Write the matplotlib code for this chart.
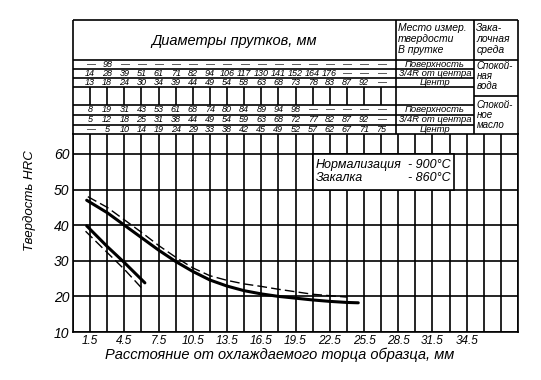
import matplotlib
matplotlib.use('Agg')
import matplotlib.pyplot as plt
import numpy as np
from matplotlib.patches import Rectangle

plt.rcParams['font.family'] = ['Liberation Sans', 'DejaVu Sans']
plt.rcParams['font.style'] = 'italic'

# ---------------- data ----------------
x_tick_labels = [1.5, 4.5, 7.5, 10.5, 13.5, 16.5, 19.5, 22.5, 25.5, 28.5, 31.5, 34.5]
y_ticks = [10, 20, 30, 40, 50, 60]

table_dist = [1.5, 3.0, 4.5, 6.0, 7.5, 9.0, 10.5, 12.0, 13.5, 15.0, 16.5, 18.0,
              19.5, 21.0, 22.5, 24.0, 25.5, 27.0]
water_surface = ['—', '98', '—', '—', '—', '—', '—', '—', '—', '—', '—', '—',
                 '—', '—', '—', '—', '—', '—']
water_34r = ['14', '28', '39', '51', '61', '71', '82', '94', '106', '117', '130', '141',
             '152', '164', '176', '—', '—', '—']
water_center = ['13', '18', '24', '30', '34', '39', '44', '49', '54', '58', '63', '68',
                '73', '78', '83', '87', '92', '—']
oil_surface = ['8', '19', '31', '43', '53', '61', '68', '74', '80', '84', '89', '94',
               '98', '—', '—', '—', '—', '—']
oil_34r = ['5', '12', '18', '25', '31', '38', '44', '49', '54', '59', '63', '68',
           '72', '77', '82', '87', '92', '—']
oil_center = ['—', '5', '10', '14', '19', '24', '29', '33', '38', '42', '45', '49',
              '52', '57', '62', '67', '71', '75']

# upper band: solid and dashed curves
a_solid_x = [1.2, 3.0, 4.5, 6.0, 7.5, 9.0, 10.5, 12.0, 13.5, 15.0, 16.5, 18.0, 19.5, 21.0, 22.5, 24.0, 25.0]
a_solid_y = [47.0, 43.5, 40.0, 36.5, 33.0, 29.8, 27.0, 24.6, 22.9, 21.6, 20.7, 20.0, 19.5, 19.0, 18.6, 18.3, 18.2]
a_dash_x = [1.3, 3.0, 4.5, 6.0, 7.5, 9.0, 10.5, 12.0, 13.5, 15.0, 16.5, 18.0, 19.5, 21.0, 22.5, 24.0]
a_dash_y = [48.0, 45.0, 41.5, 38.0, 34.3, 31.0, 28.0, 25.8, 24.5, 23.5, 22.8, 22.0, 21.3, 20.6, 20.2, 19.8]
# lower short band
b_solid_x = [1.2, 3.0, 4.5, 6.3]
b_solid_y = [39.8, 34.0, 29.5, 23.8]
b_dash_x = [1.1, 3.0, 4.5, 6.0]
b_dash_y = [38.3, 32.3, 27.6, 22.4]

# ---------------- figure ----------------
W, H = 541, 380
fig = plt.figure(figsize=(W / 100, H / 100), dpi=100)


def fr(x0, y0, x1, y1):
    return [x0 / W, 1 - y1 / H, (x1 - x0) / W, (y1 - y0) / H]


LW = 1.2
ax = fig.add_axes(fr(73, 134, 518, 332))
axT = fig.add_axes(fr(73, 20, 518, 134))

# main plot
ax.set_xlim(0, 39)
ax.set_ylim(10, 65.6)
grid_x = np.arange(0, 39.01, 1.5)
ax.set_xticks(x_tick_labels)
ax.set_xticklabels(['%.1f' % t for t in x_tick_labels], fontsize=8.5)
ax.set_xticks(grid_x, minor=True)
ax.set_yticks(y_ticks)
ax.set_yticklabels([str(v) for v in y_ticks], fontsize=10)
ax.tick_params(which='both', length=0, pad=2.5)
ax.grid(True, which='both', color='black', lw=LW)
ax.set_axisbelow(True)
for s in ax.spines.values():
    s.set_linewidth(LW)
    s.set_color('black')

ax.plot(a_solid_x, a_solid_y, color='black', lw=2.2, solid_capstyle='round', zorder=3)
ax.plot(a_dash_x, a_dash_y, color='black', lw=1.0, dashes=(7, 3), zorder=3)
ax.plot(b_solid_x, b_solid_y, color='black', lw=2.2, solid_capstyle='round', zorder=3)
ax.plot(b_dash_x, b_dash_y, color='black', lw=1.0, dashes=(7, 3), zorder=3)

ax.add_patch(Rectangle((21.0, 50.0), 12.35, 10.0, facecolor='white', edgecolor='black',
                       lw=LW, zorder=2))
ax.text(21.3, 57.0, 'Нормализация', fontsize=9, ha='left', va='center', zorder=4)
ax.text(33.1, 57.0, '- 900°C', fontsize=9, ha='right', va='center', zorder=4)
ax.text(21.3, 53.3, 'Закалка', fontsize=9, ha='left', va='center', zorder=4)
ax.text(33.1, 53.3, '- 860°C', fontsize=9, ha='right', va='center', zorder=4)

fig.text(30 / W, 1 - 201 / H, 'Твердость HRC', rotation=90, fontsize=9.5,
         ha='center', va='center')
fig.text(280 / W, 1 - 355 / H, 'Расстояние от охлаждаемого торца образца, мм',
         fontsize=10.5, ha='center', va='center')

# table
axT.set_xlim(0, 39)
axT.set_ylim(134, 20)
axT.axis('off')
C1, C2 = 28.3, 35.15
kw = dict(color='black', lw=LW, clip_on=False, solid_capstyle='butt')
axT.plot([0, 39], [20, 20], **kw)
axT.plot([0, 0], [20, 134], **kw)
axT.plot([39, 39], [20, 134], **kw)
axT.plot([C1, C1], [20, 134], **kw)
axT.plot([C2, C2], [20, 134], **kw)
axT.plot([0, 39], [60, 60], **kw)
for yy in [69, 78, 87, 105, 115, 124.5]:
    axT.plot([0, C2], [yy, yy], **kw)
axT.plot([C2, 39], [96, 96], **kw)
for d in table_dist:
    axT.plot([d, d], [87, 105], **kw)

rows = [(64.5, water_surface), (73.5, water_34r), (82.5, water_center),
        (110.0, oil_surface), (119.75, oil_34r), (129.25, oil_center)]
for yy, vals in rows:
    for d, s in zip(table_dist, vals):
        axT.text(d, yy, s, ha='center', va='center', fontsize=6.5)

axT.text(C1 / 2, 41, 'Диаметры прутков, мм', ha='center', va='center', fontsize=10.5)
mx = C1 + 0.2
for yy, s in [(28, 'Место измер.'), (39, 'твердости'), (50, 'В прутке')]:
    axT.text(mx, yy, s, ha='left', va='center', fontsize=7.5)
zx = C2 + 0.2
for yy, s in [(28, 'Зака-'), (39, 'лочная'), (50, 'среда')]:
    axT.text(zx, yy, s, ha='left', va='center', fontsize=7.5)
for yy, s in [(64.5, 'Поверхность'), (73.5, '3/4R от центра'), (82.5, 'Центр'),
              (110.0, 'Поверхность'), (119.75, '3/4R от центра'), (129.25, 'Центр')]:
    axT.text((C1 + C2) / 2, yy, s, ha='center', va='center', fontsize=6.8)
for yy, s in [(66, 'Спокой-'), (76, 'ная'), (86, 'вода'),
              (105, 'Спокой-'), (115, 'ное'), (125, 'масло')]:
    axT.text(zx, yy, s, ha='left', va='center', fontsize=7)

fig.savefig('out.png', dpi=100)
